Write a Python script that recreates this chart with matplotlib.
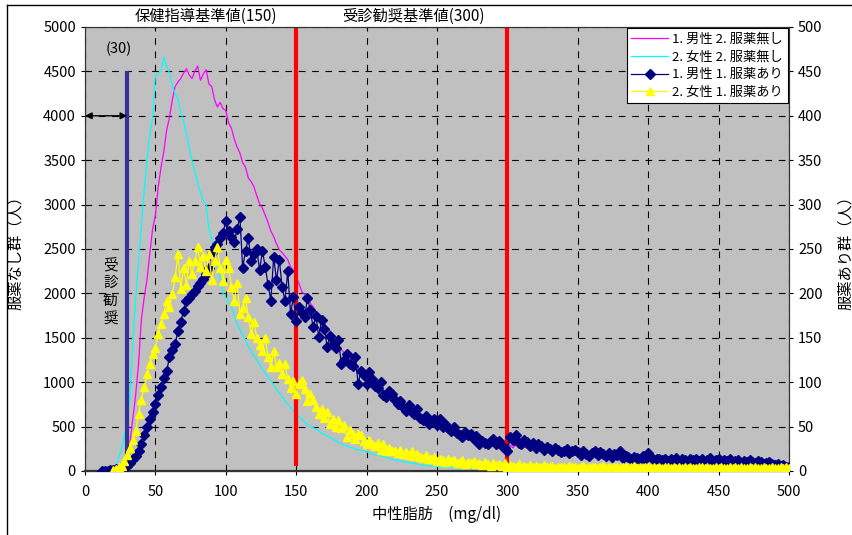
import numpy as np
import matplotlib
matplotlib.use('Agg')
from matplotlib import pyplot
from matplotlib.lines import Line2D

pyplot.rcParams['font.family'] = ['Noto Sans CJK JP', 'DejaVu Sans']

# 中性脂肪 (mg/dl) vs number of people
# no medication (left axis), step 2 from 20 to 500
x_nomed = np.arange(20, 501, 2)
male_nomed = [
    0, 10, 25, 75, 140, 220, 330, 600, 860, 1200,
    1700, 1950, 2150, 2450, 2720, 2880, 3200, 3420, 3600, 3840,
    3980, 4180, 4330, 4380, 4420, 4480, 4530, 4460, 4420, 4500,
    4560, 4400, 4470, 4520, 4360, 4330, 4180, 4100, 4150, 4080,
    4060, 3920, 3860, 3740, 3650, 3580, 3470, 3420, 3300, 3260,
    3200, 3100, 3010, 2960, 2880, 2800, 2700, 2640, 2560, 2490,
    2460, 2420, 2380, 2300, 2260, 2180, 2110, 2020, 1990, 1950,
    1890, 1850, 1790, 1740, 1700, 1660, 1600, 1580, 1500, 1440,
    1400, 1370, 1330, 1300, 1280, 1230, 1190, 1160, 1120, 1100,
    1080, 1040, 1010, 980, 950, 930, 900, 880, 860, 840,
    830, 800, 760, 730, 700, 660, 640, 620, 600, 590,
    570, 565, 550, 540, 535, 530, 525, 510, 480, 460,
    440, 420, 400, 390, 380, 370, 360, 350, 340, 330,
    325, 320, 310, 300, 295, 290, 280, 270, 265, 260,
    255, 290, 260, 300, 280, 250, 270, 260, 240, 250,
    260, 250, 240, 245, 230, 235, 220, 225, 215, 210,
    220, 205, 210, 200, 215, 195, 200, 190, 205, 185,
    190, 180, 185, 175, 190, 170, 180, 175, 165, 170,
    175, 160, 170, 165, 155, 160, 150, 155, 145, 150,
    150, 140, 145, 135, 140, 130, 135, 125, 130, 120,
    125, 120, 115, 120, 110, 115, 105, 110, 100, 105,
    100, 105, 95, 100, 90, 95, 88, 92, 85, 90,
    85, 88, 80, 84, 78, 82, 75, 78, 72, 76,
    72, 74, 68, 70, 66, 68, 62, 64, 60, 62,
    58,
]
female_nomed = [
    10, 60, 150, 260, 400, 560, 870, 1450, 1950, 2350,
    2750, 3150, 3500, 3800, 3960, 4450, 4480, 4500, 4660, 4560,
    4480, 4340, 4250, 4190, 4040, 3940, 3800, 3640, 3490, 3370,
    3250, 3130, 3040, 3010, 2720, 2620, 2450, 2330, 2180, 2000,
    1955, 1900, 1842, 1760, 1650, 1600, 1520, 1470, 1400, 1350,
    1300, 1250, 1200, 1150, 1100, 1060, 1015, 970, 920, 880,
    840, 790, 750, 715, 680, 650, 605, 580, 550, 525,
    500, 490, 470, 450, 430, 410, 390, 377, 360, 340,
    320, 305, 290, 283, 270, 260, 248, 238, 230, 226,
    215, 205, 195, 185, 178, 170, 162, 155, 145, 132,
    125, 118, 110, 105, 98, 94, 88, 82, 78, 72,
    66, 62, 57, 54, 52, 50, 47, 45, 43, 41,
    39, 37, 36, 35, 33, 32, 31, 30, 29, 28,
    27, 27, 26, 25, 25, 24, 23, 23, 22, 22,
    21, 21, 20, 20, 19, 19, 18, 18, 17, 17,
    17, 16, 16, 15, 15, 15, 14, 14, 14, 13,
    13, 13, 12, 12, 12, 12, 11, 11, 11, 11,
    10, 10, 10, 10, 10, 9, 9, 9, 9, 9,
    9, 8, 8, 8, 8, 8, 8, 7, 7, 7,
    7, 7, 7, 7, 6, 6, 6, 6, 6, 6,
    6, 6, 6, 5, 5, 5, 5, 5, 5, 5,
    5, 5, 5, 5, 5, 4, 4, 4, 4, 4,
    4, 4, 4, 4, 4, 4, 4, 4, 3, 3,
    3, 3, 3, 3, 3, 3, 3, 3, 3, 3,
    3,
]

# with medication (right axis)
x_male_med = np.arange(12, 501, 2)
male_med = [
    0, 0, 0, 1, 1, 2, 2, 3, 4, 6,
    9, 13, 17, 23, 30, 40, 49, 58, 66, 76,
    86, 95, 105, 113, 128, 136, 143, 158, 168, 180,
    192, 195, 199, 203, 208, 212, 216, 222, 229, 246,
    252, 256, 262, 268, 282, 270, 263, 258, 272, 286,
    229, 248, 262, 237, 244, 250, 226, 248, 230, 210,
    192, 241, 215, 238, 207, 192, 225, 177, 196, 169,
    185, 178, 173, 195, 181, 162, 175, 151, 170, 160,
    140, 152, 143, 138, 148, 121, 125, 132, 121, 118,
    128, 98, 113, 108, 98, 112, 104, 96, 94, 100,
    86, 83, 90, 87, 80, 75, 79, 72, 68, 74,
    66, 64, 70, 60, 57, 62, 53, 56, 58, 52,
    58, 50, 53, 48, 45, 50, 43, 40, 38, 44,
    40, 42, 36, 39, 30, 34, 32, 30, 34, 36,
    30, 34, 28, 26, 23, 38, 35, 40, 32, 30,
    35, 33, 28, 31, 26, 30, 28, 24, 27, 25,
    22, 26, 24, 21, 23, 25, 20, 22, 24, 21,
    18, 22, 19, 17, 20, 22, 18, 21, 19, 17,
    20, 16, 19, 18, 22, 15, 17, 16, 14, 16,
    15, 13, 17, 14, 20, 16, 12, 14, 13, 12,
    14, 11, 13, 12, 15, 11, 13, 12, 10, 13,
    12, 14, 11, 13, 10, 12, 15, 11, 12, 13,
    10, 12, 11, 13, 10, 11, 12, 9, 11, 10,
    12, 10, 9, 11, 10, 8, 9, 10, 8, 7,
    8, 6, 7, 5, 4,
]
x_female_med = np.arange(20, 501, 2)
female_med = [
    1, 2, 4, 6, 11, 18, 26, 35, 45, 64,
    80, 95, 109, 120, 132, 139, 154, 165, 177, 192,
    185, 199, 218, 244, 205, 229, 210, 236, 222, 237,
    252, 230, 242, 225, 244, 215, 236, 252, 229, 214,
    238, 229, 207, 192, 212, 177, 184, 195, 173, 154,
    168, 150, 142, 135, 150, 128, 117, 135, 117, 122,
    109, 120, 104, 94, 101, 87, 98, 102, 92, 79,
    87, 80, 72, 64, 70, 60, 66, 53, 58, 50,
    57, 48, 52, 38, 46, 42, 36, 42, 40, 34,
    30, 35, 30, 28, 32, 24, 30, 23, 26, 22,
    23, 20, 24, 19, 21, 18, 22, 17, 19, 16,
    15, 18, 14, 13, 16, 11, 14, 12, 10, 13,
    11, 12, 9, 10, 12, 8, 10, 9, 11, 8,
    9, 7, 10, 8, 6, 9, 7, 8, 6, 9,
    5, 7, 6, 4, 8, 5, 6, 4, 7, 5,
    6, 4, 5, 7, 4, 5, 6, 3, 5, 4,
    5, 3, 6, 4, 5, 3, 4, 6, 3, 4,
    4, 5, 3, 4, 6, 3, 4, 3, 5, 4,
    3, 5, 4, 3, 4, 6, 3, 4, 3, 5,
    4, 3, 5, 3, 4, 3, 5, 4, 3, 4,
    3, 4, 3, 5, 3, 4, 3, 3, 4, 5,
    3, 4, 3, 3, 5, 3, 4, 3, 3, 4,
    3, 5, 3, 4, 3, 3, 4, 3, 5, 3,
    3, 4, 3, 3, 4, 3, 3, 5, 3, 4,
    3,
]

labels = ['1. 男性 2. 服薬無し', '2. 女性 2. 服薬無し',
          '1. 男性 1. 服薬あり', '2. 女性 1. 服薬あり']
guide_level = 150    # 保健指導基準値
consult_level = 300  # 受診勧奨基準値
low_level = 30


#plot:
pyplot.close('all')
fig = pyplot.figure(figsize=(8.52, 5.35), dpi=100)
ax = fig.add_axes([85/852, 64/535, 704/852, 444/535])
ax.set_facecolor('#C0C0C0')
ax2 = ax.twinx()

l1, = ax.plot(x_nomed, male_nomed, color='#FF00FF', lw=0.9, zorder=3)
l2, = ax.plot(x_nomed, female_nomed, color='#00FFFF', lw=0.9, zorder=3)
l3, = ax2.plot(x_male_med, male_med, color='#000080', lw=0.9, marker='D',
               ms=5, mec='#000080', zorder=3)
l4, = ax2.plot(x_female_med, female_med, color='#FFFF00', lw=0.9, marker='^',
               ms=6, mec='#FFFF00', zorder=4)

#reference lines:
ax.vlines([guide_level, consult_level], 60, 5000, color='#FF0000', lw=3, zorder=5)
ax.vlines(low_level, 0, 4500, color='#333399', lw=3, zorder=5)
ax.annotate('', xy=(0, 4000), xytext=(low_level, 4000),
            arrowprops=dict(arrowstyle='<|-|>', color='k', lw=1,
                            shrinkA=0, shrinkB=0, mutation_scale=10), zorder=6)
ax.text(low_level - 6, 4750, '(%d)' % low_level, ha='center', va='center',
        fontsize=10.5, zorder=6)
# vertical caption, one character per row
for i, ch in enumerate('受診勧奨'):
    ax.text(18, 2320 - i*205, ch, ha='center', va='center', fontsize=10.5,
            zorder=6)
ax.text(86, 5115, '保健指導基準値(%d)' % guide_level, ha='center', va='center',
        fontsize=11, clip_on=False)
ax.text(233, 5115, '受診勧奨基準値(%d)' % consult_level, ha='center', va='center',
        fontsize=11, clip_on=False)

#axes:
ax.set_xlim(0, 500)
ax.set_ylim(0, 5000)
ax2.set_ylim(0, 500)
ax.set_xticks(np.arange(0, 501, 50))
ax.set_yticks(np.arange(0, 5001, 500))
ax2.set_yticks(np.arange(0, 501, 50))
ax.grid(True, color='k', ls=(0, (6, 6)), lw=0.8)
ax.set_axisbelow(True)
for a in (ax, ax2):
    a.tick_params(labelsize=10.5, direction='out', length=3, width=0.8)
    for s in a.spines.values():
        s.set_color('#333333')
ax.spines['bottom'].set_linewidth(1.6)
ax.tick_params(axis='x', pad=7)
ax.set_xlabel('中性脂肪　(mg/dl)', fontsize=11, labelpad=5)
ax.set_ylabel('服薬なし群（人）', fontsize=11, labelpad=14)
ax2.set_ylabel('服薬あり群（人）', fontsize=11, labelpad=10)

leg = ax2.legend([l1, l2, l3, l4], labels, loc='upper right',
                 bbox_to_anchor=(1.0, 1.0), fontsize=9.5, fancybox=False,
                 framealpha=1, edgecolor='k', borderpad=0.35, labelspacing=0.35,
                 handlelength=2.8, handletextpad=0.3, borderaxespad=0.1)
leg.get_frame().set_linewidth(0.8)

#outer frame
fig.add_artist(Line2D([7/852, 7/852], [0, 1 - 5/535], color='k', lw=1))
fig.add_artist(Line2D([7/852, 1], [1 - 5/535, 1 - 5/535], color='k', lw=1))

pyplot.savefig('out.png', dpi=100)
